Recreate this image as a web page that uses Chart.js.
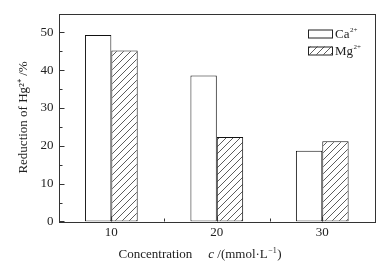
<!DOCTYPE html>
<html><head><meta charset="utf-8">
<script src="https://cdn.jsdelivr.net/npm/chart.js@4/dist/chart.umd.min.js"></script>
<style>html,body{margin:0;padding:0;background:#fff}</style>
</head><body>
<canvas id="c" width="392" height="266"></canvas>
<script>
// ---- data ----
const concentrations = [10, 20, 30];
const caReduction = [49.3, 38.6, 18.7];
const mgReduction = [45.2, 22.3, 21.2];
const seriesNames = ['Ca', 'Mg'];
const seriesCharge = '2+';
const yMajorTicks = [0, 10, 20, 30, 40, 50];
const yMinorTicks = [5, 15, 25, 35, 45];
const xMajorTicks = [10, 20, 30];
const xMinorTicks = [15, 25];

const FONT = "'Liberation Serif', 'Times New Roman', serif";
const INK = '#222';

function hatchPattern() {
  const s = 7;
  const t = document.createElement('canvas');
  t.width = s; t.height = s;
  const g = t.getContext('2d');
  g.fillStyle = '#fff'; g.fillRect(0, 0, s, s);
  g.strokeStyle = '#333'; g.lineWidth = 0.8;
  g.beginPath();
  g.moveTo(0, s); g.lineTo(s, 0);
  g.moveTo(-1, 1); g.lineTo(1, -1);
  g.moveTo(s - 1, s + 1); g.lineTo(s + 1, s - 1);
  g.stroke();
  return document.getElementById('c').getContext('2d').createPattern(t, 'repeat');
}
const hatch = hatchPattern();

const framePlugin = {
  id: 'frameTicks',
  afterDatasetsDraw(chart) {
    const ctx = chart.ctx, a = chart.chartArea;
    const xs = chart.scales.x, ys = chart.scales.y;
    ctx.save();
    ctx.strokeStyle = '#333'; ctx.lineWidth = 1;
    ctx.strokeRect(Math.round(a.left) + 0.5, Math.round(a.top) + 0.5,
      Math.round(a.right - a.left), Math.round(a.bottom - a.top));
    ctx.beginPath();
    const L = Math.round(a.left) + 0.5, B = Math.round(a.bottom) + 0.5;
    yMajorTicks.forEach(v => { const y = Math.round(ys.getPixelForValue(v)) + 0.5; ctx.moveTo(L, y); ctx.lineTo(L + 5, y); });
    yMinorTicks.forEach(v => { const y = Math.round(ys.getPixelForValue(v)) + 0.5; ctx.moveTo(L, y); ctx.lineTo(L + 3, y); });
    xMajorTicks.forEach(v => { const x = Math.round(xs.getPixelForValue(v)) + 0.5; ctx.moveTo(x, B); ctx.lineTo(x, B - 5); });
    xMinorTicks.forEach(v => { const x = Math.round(xs.getPixelForValue(v)) + 0.5; ctx.moveTo(x, B); ctx.lineTo(x, B - 3); });
    ctx.stroke();
    ctx.restore();
  },
  afterDraw(chart) {
    const ctx = chart.ctx, a = chart.chartArea;
    ctx.save();
    // legend
    const bx = a.right - 67, bw = 24, bh = 8;
    const rows = [a.top + 16, a.top + 33];
    chart.data.datasets.forEach((ds, i) => {
      const y = rows[i];
      ctx.fillStyle = ds.backgroundColor;
      ctx.fillRect(bx, y, bw, bh);
      ctx.strokeStyle = '#222'; ctx.lineWidth = 1;
      ctx.strokeRect(bx + 0.5, y + 0.5, bw, bh);
      ctx.fillStyle = INK;
      ctx.textBaseline = 'middle'; ctx.textAlign = 'left';
      ctx.font = '13px ' + FONT;
      const tx = bx + bw + 3, ty = y + bh / 2 + 1;
      ctx.fillText(seriesNames[i], tx, ty);
      const w = ctx.measureText(seriesNames[i]).width;
      ctx.font = '7px ' + FONT;
      ctx.fillText(seriesCharge, tx + w + 0.5, ty - 4);
    });
    // x axis title
    const cy = 255;
    let x = a.left + 60;
    ctx.fillStyle = INK; ctx.textBaseline = 'middle'; ctx.textAlign = 'left';
    ctx.font = '13px ' + FONT;
    ctx.fillText('Concentration', x, cy);
    x += ctx.measureText('Concentration').width + 16;
    ctx.font = 'italic 13px ' + FONT;
    ctx.fillText('c', x, cy);
    x += ctx.measureText('c').width;
    ctx.font = '13px ' + FONT;
    ctx.fillText(' /(mmol\u00b7L', x, cy);
    x += ctx.measureText(' /(mmol\u00b7L').width;
    ctx.font = '8px ' + FONT;
    ctx.fillText('\u22121', x + 0.5, cy - 4);
    x += ctx.measureText('\u22121').width + 1;
    ctx.font = '13px ' + FONT;
    ctx.fillText(')', x, cy);
    ctx.restore();
  }
};

new Chart(document.getElementById('c'), {
  type: 'bar',
  data: {
    datasets: [
      { label: seriesNames[0] + '\u00b2\u207a', data: concentrations.map((c, i) => ({ x: c, y: caReduction[i] })),
        backgroundColor: '#ffffff', borderColor: '#111', borderWidth: 1, borderSkipped: false },
      { label: seriesNames[1] + '\u00b2\u207a', data: concentrations.map((c, i) => ({ x: c, y: mgReduction[i] })),
        backgroundColor: hatch, borderColor: '#111', borderWidth: 1, borderSkipped: false }
    ]
  },
  options: {
    responsive: false,
    animation: false,
    devicePixelRatio: 1,
    layout: { padding: { left: 12, right: 17, top: 13.5, bottom: 23 } },
    categoryPercentage: 0.5,
    barPercentage: 1,
    plugins: { legend: { display: false }, tooltip: { enabled: false } },
    scales: {
      x: {
        type: 'linear', min: 5, max: 35, offset: false,
        afterBuildTicks: s => { s.ticks = xMajorTicks.map(v => ({ value: v })); },
        grid: { display: false, drawTicks: false },
        border: { display: false },
        ticks: { padding: 3, color: INK, font: { family: FONT, size: 13 } }
      },
      y: {
        min: 0, max: 55,
        afterBuildTicks: s => { s.ticks = yMajorTicks.map(v => ({ value: v })); },
        grid: { display: false, drawTicks: false },
        border: { display: false },
        ticks: { padding: 5, color: INK, font: { family: FONT, size: 13 } },
        title: { display: true, text: 'Reduction of Hg\u00b2\u207a /%', color: INK, padding: { top: 4, bottom: 4 }, font: { family: FONT, size: 13 } }
      }
    }
  },
  plugins: [framePlugin]
});
</script>
</body></html>
